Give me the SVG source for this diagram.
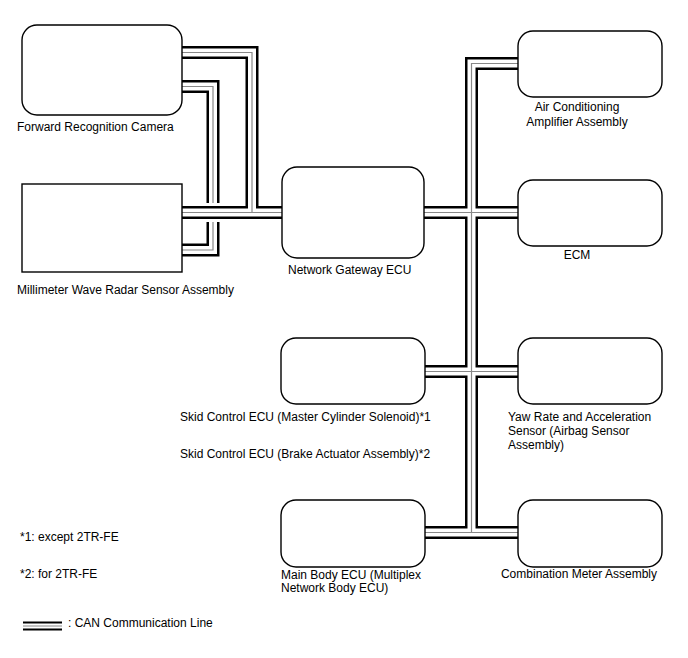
<svg xmlns="http://www.w3.org/2000/svg" width="688" height="658" viewBox="0 0 688 658">
<style>
.box{fill:#fff;stroke:#000;stroke-width:1.4}
text{font-family:"Liberation Sans",Arial,sans-serif;font-size:12px;fill:#000}
.b{fill:none;stroke:#000;stroke-width:13;stroke-linejoin:miter}
.w{fill:none;stroke:#fff;stroke-width:8;stroke-linejoin:miter}
.g{fill:none;stroke:#888;stroke-width:1.2;stroke-linejoin:miter}
.u{fill:none;stroke:#fff;stroke-width:19}
</style>
<rect width="688" height="658" fill="#fff"/>
<g id="connectors">
  <!-- camera to radar private bus -->
  <g>
    <path class="b" d="M182,86.5 H213 V250 H182"/>
    <path class="w" d="M182,86.5 H213 V250 H182"/>
    <path class="g" d="M182,86.5 H213 V250 H182"/>
  </g>
  <!-- main bus left side -->
  <path class="u" d="M195,212.5 H235"/>
  <g>
    <path class="b" d="M182,52.5 H252 V212.5"/>
    <path class="b" d="M182,212.5 H282"/>
    <path class="w" d="M182,52.5 H252 V212.5"/>
    <path class="w" d="M182,212.5 H282"/>
    <path class="g" d="M182,52.5 H252 V212.5"/>
    <path class="g" d="M182,212.5 H282"/>
  </g>
  <!-- right side bus -->
  <g>
    <path class="b" d="M518,63.5 H471.5 V532.5"/>
    <path class="b" d="M424,212.5 H518"/>
    <path class="b" d="M425,371.5 H518"/>
    <path class="b" d="M425,532.5 H518"/>
    <path class="w" d="M518,63.5 H471.5 V532.5"/>
    <path class="w" d="M424,212.5 H518"/>
    <path class="w" d="M425,371.5 H518"/>
    <path class="w" d="M425,532.5 H518"/>
    <path class="g" d="M518,63.5 H471.5 V532.5"/>
    <path class="g" d="M424,212.5 H518"/>
    <path class="g" d="M425,371.5 H518"/>
    <path class="g" d="M425,532.5 H518"/>
  </g>
</g>
<g id="camera">
  <rect class="box" x="22" y="25" width="160" height="90" rx="15"/>
  <text x="17" y="131">Forward Recognition Camera</text>
</g>
<g id="radar">
  <rect class="box" x="22" y="184" width="160" height="88"/>
  <text x="17" y="294">Millimeter Wave Radar Sensor Assembly</text>
</g>
<g id="gateway">
  <rect class="box" x="282" y="167" width="142" height="91" rx="15"/>
  <text x="288" y="274">Network Gateway ECU</text>
</g>
<g id="aircon">
  <rect class="box" x="518" y="31" width="144" height="66" rx="15"/>
  <text x="577" y="111" text-anchor="middle">Air Conditioning</text>
  <text x="577" y="126" text-anchor="middle">Amplifier Assembly</text>
</g>
<g id="ecm">
  <rect class="box" x="518" y="180" width="144" height="66" rx="15"/>
  <text x="577" y="259" text-anchor="middle">ECM</text>
</g>
<g id="skid">
  <rect class="box" x="281" y="338" width="144" height="66" rx="15"/>
  <text x="180" y="421">Skid Control ECU (Master Cylinder Solenoid)*1</text>
  <text x="180" y="458">Skid Control ECU (Brake Actuator Assembly)*2</text>
</g>
<g id="yaw">
  <rect class="box" x="518" y="338" width="144" height="66" rx="15"/>
  <text x="508" y="421">Yaw Rate and Acceleration</text>
  <text x="508" y="435">Sensor (Airbag Sensor</text>
  <text x="508" y="449">Assembly)</text>
</g>
<g id="mainbody">
  <rect class="box" x="281" y="500" width="144" height="67" rx="15"/>
  <text x="281" y="579">Main Body ECU (Multiplex</text>
  <text x="281" y="592">Network Body ECU)</text>
</g>
<g id="meter">
  <rect class="box" x="518" y="500" width="144" height="67" rx="15"/>
  <text x="579" y="578" text-anchor="middle">Combination Meter Assembly</text>
</g>
<g id="notes">
  <text x="20" y="541">*1: except 2TR-FE</text>
  <text x="20" y="578">*2: for 2TR-FE</text>
</g>
<g id="legend">
  <path d="M23,626 H62" stroke="#000" stroke-width="9"/>
  <path d="M23,626 H62" stroke="#fff" stroke-width="5"/>
  <path d="M23,626 H62" stroke="#888" stroke-width="1"/>
  <text x="68" y="627">: CAN Communication Line</text>
</g>
</svg>
